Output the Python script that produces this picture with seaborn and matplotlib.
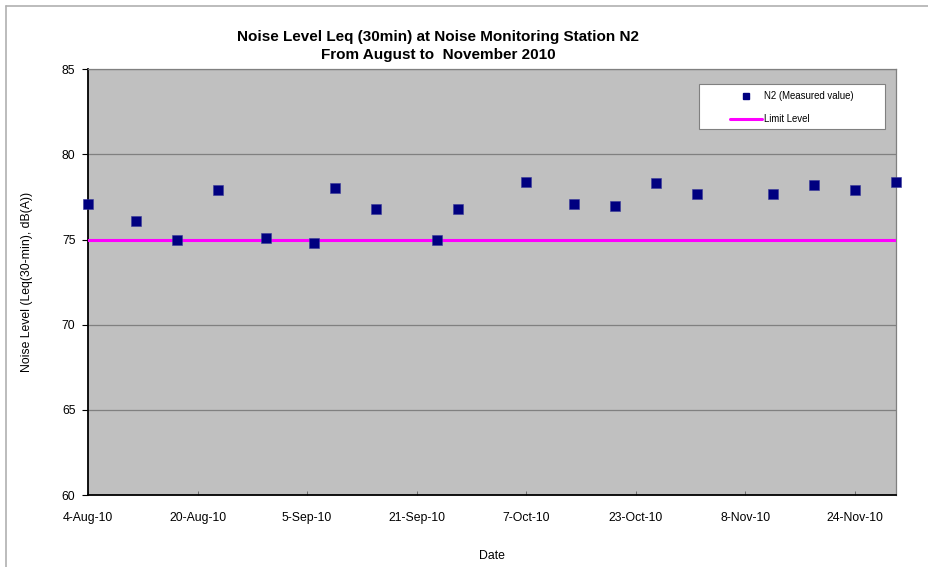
import matplotlib
matplotlib.use("Agg")
import matplotlib.pyplot as plt
import matplotlib.dates as mdates
from matplotlib.lines import Line2D
from matplotlib.patches import Rectangle
import seaborn as sns
import pandas as pd

# Measured Leq(30min) at station N2
dates = ["2010-08-04", "2010-08-11", "2010-08-17", "2010-08-23", "2010-08-30",
         "2010-09-06", "2010-09-09", "2010-09-15", "2010-09-24", "2010-09-27",
         "2010-10-07", "2010-10-14", "2010-10-20", "2010-10-26", "2010-11-01",
         "2010-11-12", "2010-11-18", "2010-11-24", "2010-11-30"]
levels = [77.1, 76.1, 75.0, 77.9, 75.1,
          74.8, 78.0, 76.8, 75.0, 76.8,
          78.4, 77.1, 77.0, 78.3, 77.7,
          77.7, 78.2, 77.9, 78.4]

# Limit level across the reporting period
limit_dates = ["2010-08-04", "2010-11-30"]
limit_values = [75, 75]

tick_dates = ["2010-08-04", "2010-08-20", "2010-09-05", "2010-09-21",
              "2010-10-07", "2010-10-23", "2010-11-08", "2010-11-24"]
y_ticks = [60, 65, 70, 75, 80, 85]

title_lines = ["Noise Level Leq (30min) at Noise Monitoring Station N2",
               "From August to  November 2010"]

df = pd.DataFrame({"Date": pd.to_datetime(dates), "Level": levels})
limit_df = pd.DataFrame({"Date": pd.to_datetime(limit_dates), "Level": limit_values})

sns.set_theme(style="white")
plt.rcParams["font.family"] = ["Liberation Sans", "DejaVu Sans"]
plt.rcParams["text.color"] = "black"
plt.rcParams["axes.labelcolor"] = "black"
plt.rcParams["xtick.color"] = "black"
plt.rcParams["ytick.color"] = "black"

fig = plt.figure(figsize=(9.29, 5.67), dpi=100)
ax = fig.add_axes([88 / 929, 1 - 495 / 567, 808 / 929, (495 - 69.3) / 567])
ax.set_facecolor("#C0C0C0")

sns.lineplot(data=limit_df, x="Date", y="Level", ax=ax, color="#FF00FF",
             linewidth=2.2, zorder=3, legend=False)
sns.scatterplot(data=df, x="Date", y="Level", ax=ax, marker="s", s=48,
                color="#000080", edgecolor="#3a3a9a", linewidth=0.4,
                zorder=4, legend=False, clip_on=False)

ax.set_xlim(pd.Timestamp("2010-08-04"), pd.Timestamp("2010-11-30"))
ax.set_ylim(60, 85)
ax.set_yticks(y_ticks)
ax.set_xticks(pd.to_datetime(tick_dates))
ax.xaxis.set_major_formatter(mdates.DateFormatter("%-d-%b-%y"))

for y in y_ticks[1:]:
    ax.axhline(y, color="#808080", linewidth=0.9, zorder=1)

for side in ["top", "right"]:
    ax.spines[side].set_color("#808080")
    ax.spines[side].set_linewidth(0.9)
for side in ["left", "bottom"]:
    ax.spines[side].set_color("black")
    ax.spines[side].set_linewidth(1.3)

ax.tick_params(axis="y", direction="out", length=4, width=0.8, color="black",
               labelsize=8.8, pad=5, left=True, labelcolor="black")
ax.tick_params(axis="x", direction="in", length=3, width=0.6, color="#606060",
               labelsize=8.8, pad=12, bottom=True, labelcolor="black")

ax.set_xlabel("Date", fontsize=8.8, labelpad=19, color="black")
ax.set_ylabel("Noise Level (Leq(30-min), dB(A))", fontsize=8.8, labelpad=21,
              color="black")

fig.text(438 / 929, 1 - 36.5 / 567, title_lines[0], ha="center", va="center",
         fontsize=11, fontweight="bold", color="black")
fig.text(438 / 929, 1 - 54.5 / 567, title_lines[1], ha="center", va="center",
         fontsize=11, fontweight="bold", color="black")

# Legend box with its entries
ax.add_patch(Rectangle(((699 - 88) / 808, 1 - (129.3 - 69.3) / 425.7),
                       186 / 808, 45 / 425.7, transform=ax.transAxes,
                       facecolor="white", edgecolor="#808080", linewidth=0.8,
                       zorder=5))
handles = [Line2D([], [], marker="s", linestyle="none", color="#000080",
                  markersize=4),
           Line2D([], [], color="#FF00FF", linewidth=2.2)]
leg = ax.legend(handles, ["N2 (Measured value)", "Limit Level"],
                loc="upper left", bbox_to_anchor=((730 - 88) / 808, 0.948),
                frameon=False, fontsize=6.9, handlelength=3.3,
                handletextpad=0.3, labelspacing=1.3, borderpad=0,
                borderaxespad=0)
for t in leg.get_texts():
    t.set_color("black")
leg.set_zorder(6)

# Outer chart border
fig.add_artist(Line2D([6 / 929, 1], [1 - 6 / 567, 1 - 6 / 567],
                      transform=fig.transFigure, color="#B0B0B0", linewidth=1.2))
fig.add_artist(Line2D([6 / 929, 6 / 929], [0, 1 - 6 / 567],
                      transform=fig.transFigure, color="#B0B0B0", linewidth=1.2))

fig.savefig("out.png", dpi=100, facecolor="white")
